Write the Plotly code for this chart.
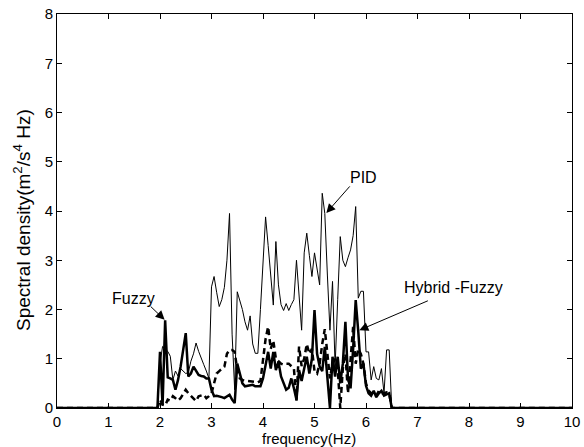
import plotly.graph_objects as go

# Frequency grid (Hz)
freq = [0.0,
        1.95, 2.00, 2.05, 2.10, 2.15, 2.20, 2.25, 2.30, 2.35, 2.40,
        2.45, 2.50, 2.55, 2.60, 2.65, 2.70, 2.75, 2.80, 2.85, 2.90,
        2.95, 3.00, 3.05, 3.10, 3.15, 3.20, 3.25, 3.30, 3.35, 3.40,
        3.45, 3.50, 3.55, 3.60, 3.65, 3.70, 3.75, 3.80, 3.85, 3.90,
        3.95, 4.00, 4.05, 4.10, 4.15, 4.20, 4.25, 4.30, 4.35, 4.40,
        4.45, 4.50, 4.55, 4.60, 4.65, 4.70, 4.75, 4.80, 4.85, 4.90,
        4.95, 5.00, 5.05, 5.10, 5.15, 5.20, 5.25, 5.30, 5.35, 5.40,
        5.45, 5.50, 5.55, 5.60, 5.65, 5.70, 5.75, 5.80, 5.85, 5.90,
        5.95, 6.00, 6.05, 6.10, 6.15, 6.20, 6.25, 6.30, 6.35, 6.40,
        6.45, 6.50, 6.55,
        10.0]

pid = [0.0,
       0.0, 0.9, 1.25, 1.2, 1.15, 1.05, 0.57, 0.75, 0.65, 0.8,
       0.75, 0.7, 0.72, 0.95, 1.1, 1.32, 1.15, 1.0, 0.88, 0.75,
       0.6, 2.46, 2.67, 2.35, 2.06, 2.2, 2.45, 3.0, 3.95, 1.5,
       0.37, 2.36, 2.2, 2.0, 1.75, 1.58, 1.87, 1.3, 1.11, 1.11,
       2.0, 3.0, 3.88, 3.3, 2.6, 2.09, 3.38, 2.5, 2.1, 1.98,
       2.12, 1.98, 2.1, 2.2, 3.0, 2.3, 1.58, 3.15, 3.55, 3.1,
       2.67, 3.15, 2.8, 2.5, 4.36, 3.95, 2.7, 1.58, 2.57, 0.84,
       2.2, 3.48, 3.0, 2.87, 3.05, 3.21, 3.5, 4.09, 2.23, 2.37,
       2.37, 1.14, 1.14, 0.57, 0.84, 0.6, 0.57, 0.8, 0.3, 1.18,
       1.18, 0.0, 0.0,
       0.0]

fuzzy = [0.0,
         0.0, 1.14, 0.05, 1.78, 0.62, 0.6, 0.57, 0.37, 0.57, 0.84,
         1.2, 1.52, 0.64, 0.7, 0.84, 0.75, 0.67, 0.65, 0.64, 0.6,
         0.6, 0.37, 0.24, 0.25, 0.24, 0.22, 0.2, 0.23, 0.27, 0.17,
         0.1, 0.9, 0.7, 0.5, 0.44, 0.45, 0.45, 0.47, 0.44, 0.44,
         0.44, 0.6, 0.9, 1.14, 0.8, 1.14, 0.77, 0.94, 0.64, 0.5,
         0.37, 0.41, 0.6, 0.4, 0.17, 0.77, 0.55, 0.8, 1.04, 0.7,
         1.0, 1.99, 1.1, 0.84, 0.75, 1.24, 0.6, 0.0, 1.04, 0.64,
         1.04, 0.5, 0.9, 1.75, 0.6, 0.4, 1.2, 2.19, 1.55, 0.8,
         0.9, 0.45, 0.3, 0.25, 0.35, 0.22, 0.3, 0.35, 0.25, 0.28,
         0.3, 0.0, 0.0,
         0.0]

hybrid = [0.0,
          0.0, 0.17, 0.07, 0.05, 0.17, 0.15, 0.24, 0.2, 0.15, 0.2,
          0.3, 0.37, 0.3, 0.25, 0.2, 0.14, 0.24, 0.26, 0.27, 0.2,
          0.24, 0.3, 0.5, 0.7, 0.75, 0.8, 0.84, 1.1, 1.18, 1.18,
          1.14, 0.77, 0.6, 0.57, 0.55, 0.55, 0.54, 0.54, 0.52, 0.52,
          0.55, 1.0, 1.4, 1.65, 1.2, 1.37, 1.0, 0.95, 0.9, 0.88,
          0.9, 0.9, 0.85, 0.8, 0.15, 1.25, 0.85, 1.0, 1.3, 1.1,
          1.2, 0.75, 0.7, 0.9, 1.3, 1.6, 1.1, 0.6, 0.9, 1.0,
          0.8, 0.0, 0.8, 1.1, 0.3, 1.0, 1.65, 0.9, 1.2, 1.1,
          0.9, 0.5, 0.35, 0.3, 0.3, 0.25, 0.35, 0.3, 0.3, 0.32,
          0.3, 0.0, 0.0,
          0.0]

x_ticks = [0, 1, 2, 3, 4, 5, 6, 7, 8, 9, 10]
y_ticks = [0, 1, 2, 3, 4, 5, 6, 7, 8]

FONT = "Liberation Sans, Arial, sans-serif"
FS = 15

fig = go.Figure()
fig.add_trace(go.Scatter(x=freq, y=pid, mode="lines", name="PID",
                         line=dict(color="black", width=1)))
fig.add_trace(go.Scatter(x=freq, y=hybrid, mode="lines", name="Hybrid -Fuzzy",
                         line=dict(color="black", width=2.5, dash="6px,4px")))
fig.add_trace(go.Scatter(x=freq, y=fuzzy, mode="lines", name="Fuzzy",
                         line=dict(color="black", width=2.5)))

# labels with arrows
labels = [
    dict(text="PID", tx=5.95, ty=4.69, tail=(5.71, 4.53), tip=(5.23, 3.96)),
    dict(text="Fuzzy", tx=1.48, ty=2.23, tail=(1.79, 2.09), tip=(2.09, 1.79)),
    dict(text="Hybrid -Fuzzy", tx=7.7, ty=2.44, tail=(7.23, 2.19), tip=(5.87, 1.58)),
]
for lb in labels:
    fig.add_annotation(x=lb["tx"], y=lb["ty"], text=lb["text"], showarrow=False,
                       font=dict(family=FONT, size=16, color="black"))
    fig.add_annotation(x=lb["tip"][0], y=lb["tip"][1], ax=lb["tail"][0], ay=lb["tail"][1],
                       axref="x", ayref="y", text="", showarrow=True,
                       arrowhead=2, arrowsize=1.8, arrowwidth=1, arrowcolor="black")

# axis titles
fig.add_annotation(xref="paper", yref="paper", x=0.49, y=-0.078, yanchor="middle",
                   text="frequency(Hz)", showarrow=False,
                   font=dict(family=FONT, size=FS, color="black"))
fig.add_annotation(xref="paper", yref="paper", x=-0.068, y=0.477, xanchor="center",
                   yanchor="middle", textangle=-90,
                   text="Spectral density(m<sup>2</sup>/s<sup>4</sup> Hz)", showarrow=False,
                   font=dict(family=FONT, size=19, color="black"))

axis_common = dict(showgrid=False, zeroline=False, showline=True, linecolor="black",
                   linewidth=1, mirror="ticks", ticks="inside", ticklen=5,
                   tickcolor="black", automargin=False,
                   tickfont=dict(family=FONT, size=FS, color="black"))

fig.update_xaxes(range=[0, 10], tickvals=x_ticks, ticktext=[str(t) for t in x_ticks],
                 **axis_common)
fig.update_yaxes(range=[0, 8], tickvals=y_ticks, ticktext=[str(t) for t in y_ticks],
                 **axis_common)

fig.update_layout(width=584, height=447, showlegend=False,
                  margin=dict(l=57, r=12, t=14, b=39),
                  paper_bgcolor="white", plot_bgcolor="white",
                  font=dict(family=FONT, size=FS, color="black"))

fig.write_html("out.html")
